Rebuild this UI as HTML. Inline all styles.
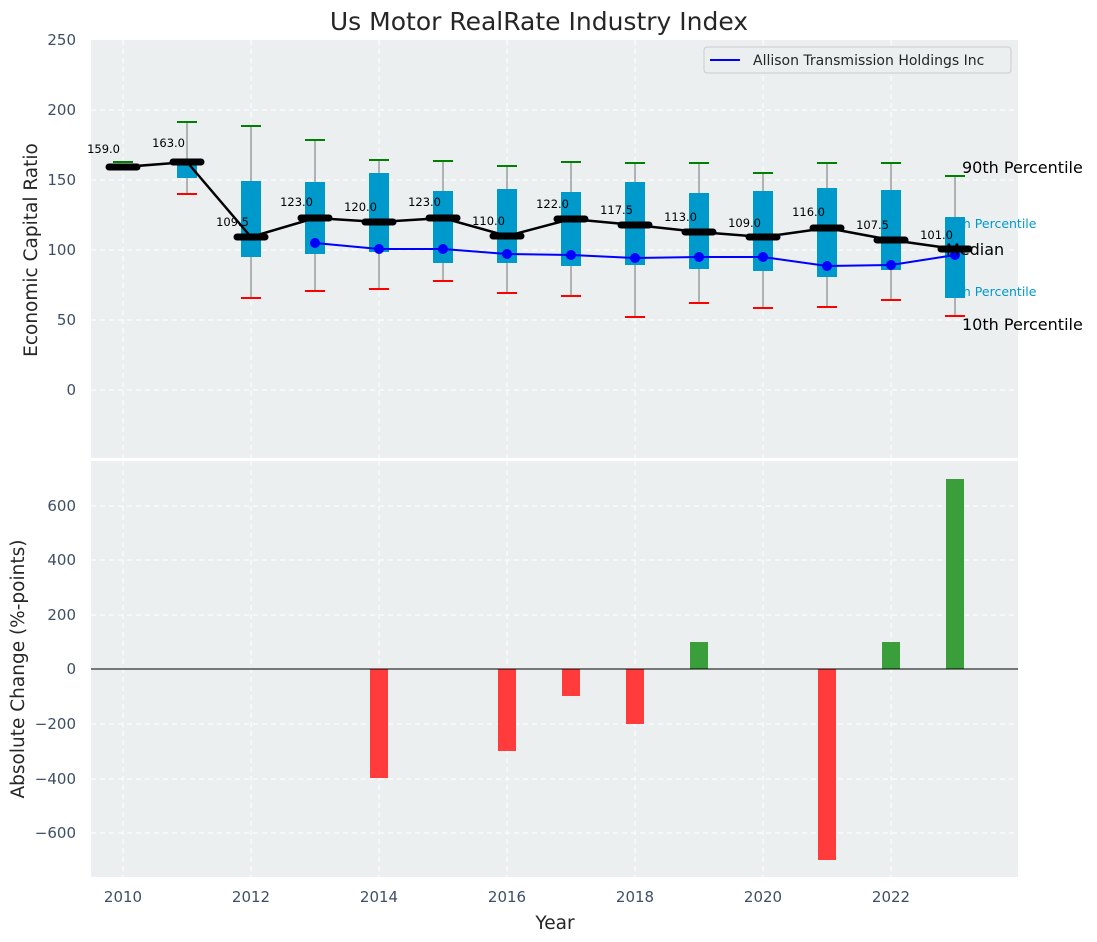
<!DOCTYPE html>
<html><head><meta charset="utf-8"><style>body{margin:0;background:#fff}svg{display:block;font-family:"DejaVu Sans","Liberation Sans",sans-serif}</style></head><body>
<svg width="1097" height="942" viewBox="0 0 1097 942" xmlns="http://www.w3.org/2000/svg">
<text x="539" y="30" font-size="25" text-anchor="middle" fill="#262626">Us Motor RealRate Industry Index</text>
<rect x="91" y="40" width="927" height="418" fill="#ebeff0"/>
<g stroke="#fff" stroke-dasharray="5,4" stroke-width="1">
<line x1="123" y1="40" x2="123" y2="458"/><line x1="251" y1="40" x2="251" y2="458"/><line x1="379" y1="40" x2="379" y2="458"/><line x1="507" y1="40" x2="507" y2="458"/><line x1="635" y1="40" x2="635" y2="458"/><line x1="763" y1="40" x2="763" y2="458"/><line x1="891" y1="40" x2="891" y2="458"/>
<line x1="91" y1="110" x2="1018" y2="110"/><line x1="91" y1="180" x2="1018" y2="180"/><line x1="91" y1="250" x2="1018" y2="250"/><line x1="91" y1="320" x2="1018" y2="320"/><line x1="91" y1="390" x2="1018" y2="390"/>
</g>
<g font-size="15" fill="#3d4f66" text-anchor="end">
<text x="76" y="45">250</text><text x="76" y="115">200</text><text x="76" y="185">150</text><text x="76" y="255">100</text><text x="76" y="325">50</text><text x="76" y="395">0</text>
</g>
<text transform="translate(37,250) rotate(-90)" font-size="18.5" text-anchor="middle" fill="#262626">Economic Capital Ratio</text>
<g stroke="#888" stroke-width="1.2">
<line x1="187" y1="122" x2="187" y2="194"/><line x1="251" y1="126" x2="251" y2="298"/><line x1="315" y1="140" x2="315" y2="291"/><line x1="379" y1="160" x2="379" y2="289"/><line x1="443" y1="161" x2="443" y2="281"/><line x1="507" y1="166" x2="507" y2="293"/><line x1="571" y1="162" x2="571" y2="296"/><line x1="635" y1="163" x2="635" y2="317"/><line x1="699" y1="163" x2="699" y2="303"/><line x1="763" y1="173" x2="763" y2="308"/><line x1="827" y1="163" x2="827" y2="307"/><line x1="891" y1="163" x2="891" y2="300"/><line x1="955" y1="176" x2="955" y2="316"/>
</g>
<g fill="#0099cc">
<rect x="177" y="162" width="20" height="16"/><rect x="241" y="181" width="20" height="76"/><rect x="305" y="182" width="20" height="72"/><rect x="369" y="173" width="20" height="79"/><rect x="433" y="191" width="20" height="72"/><rect x="497" y="189" width="20" height="74"/><rect x="561" y="192" width="20" height="74"/><rect x="625" y="182" width="20" height="83"/><rect x="689" y="193" width="20" height="76"/><rect x="753" y="191" width="20" height="80"/><rect x="817" y="188" width="20" height="89"/><rect x="881" y="190" width="20" height="80"/><rect x="945" y="217" width="20" height="81"/>
</g>
<g stroke="#008000" stroke-width="2">
<line x1="113" y1="162" x2="133" y2="162"/><line x1="177" y1="122" x2="197" y2="122"/><line x1="241" y1="126" x2="261" y2="126"/><line x1="305" y1="140" x2="325" y2="140"/><line x1="369" y1="160" x2="389" y2="160"/><line x1="433" y1="161" x2="453" y2="161"/><line x1="497" y1="166" x2="517" y2="166"/><line x1="561" y1="162" x2="581" y2="162"/><line x1="625" y1="163" x2="645" y2="163"/><line x1="689" y1="163" x2="709" y2="163"/><line x1="753" y1="173" x2="773" y2="173"/><line x1="817" y1="163" x2="837" y2="163"/><line x1="881" y1="163" x2="901" y2="163"/><line x1="945" y1="176" x2="965" y2="176"/>
</g>
<g stroke="#f00" stroke-width="2">
<line x1="177" y1="194" x2="197" y2="194"/><line x1="241" y1="298" x2="261" y2="298"/><line x1="305" y1="291" x2="325" y2="291"/><line x1="369" y1="289" x2="389" y2="289"/><line x1="433" y1="281" x2="453" y2="281"/><line x1="497" y1="293" x2="517" y2="293"/><line x1="561" y1="296" x2="581" y2="296"/><line x1="625" y1="317" x2="645" y2="317"/><line x1="689" y1="303" x2="709" y2="303"/><line x1="753" y1="308" x2="773" y2="308"/><line x1="817" y1="307" x2="837" y2="307"/><line x1="881" y1="300" x2="901" y2="300"/><line x1="945" y1="316" x2="965" y2="316"/>
</g>
<polyline fill="none" stroke="#00f" stroke-width="2" points="315,243 379,249 443,249 507,254 571,255 635,258 699,257 763,257 827,266 891,265 955,255"/>
<g fill="#00f"><circle cx="315" cy="243" r="5"/><circle cx="379" cy="249" r="5"/><circle cx="443" cy="249" r="5"/><circle cx="507" cy="254" r="5"/><circle cx="571" cy="255" r="5"/><circle cx="635" cy="258" r="5"/><circle cx="699" cy="257" r="5"/><circle cx="763" cy="257" r="5"/><circle cx="827" cy="266" r="5"/><circle cx="891" cy="265" r="5"/><circle cx="955" cy="255" r="5"/></g>
<polyline fill="none" stroke="#000" stroke-width="2.5" points="123,167 187,162 251,237 315,218 379,222 443,218 507,236 571,219 635,225 699,232 763,237 827,228 891,240 955,249"/>
<g stroke="#000" stroke-width="7" stroke-linecap="round">
<line x1="109" y1="167" x2="137" y2="167"/><line x1="173" y1="162" x2="201" y2="162"/><line x1="237" y1="237" x2="265" y2="237"/><line x1="301" y1="218" x2="329" y2="218"/><line x1="365" y1="222" x2="393" y2="222"/><line x1="429" y1="218" x2="457" y2="218"/><line x1="493" y1="236" x2="521" y2="236"/><line x1="557" y1="219" x2="585" y2="219"/><line x1="621" y1="225" x2="649" y2="225"/><line x1="685" y1="232" x2="713" y2="232"/><line x1="749" y1="237" x2="777" y2="237"/><line x1="813" y1="228" x2="841" y2="228"/><line x1="877" y1="240" x2="905" y2="240"/><line x1="941" y1="249" x2="969" y2="249"/>
</g>
<g font-size="11.5" fill="#000" text-anchor="end">
<text x="120" y="153">159.0</text><text x="185" y="147">163.0</text><text x="249" y="226">109.5</text><text x="313" y="206">123.0</text><text x="377" y="211">120.0</text><text x="441" y="206">123.0</text><text x="505" y="225">110.0</text><text x="569" y="208">122.0</text><text x="633" y="214">117.5</text><text x="697" y="221">113.0</text><text x="761" y="227">109.0</text><text x="825" y="216">116.0</text><text x="889" y="229">107.5</text><text x="953" y="239">101.0</text>
</g>
<g font-size="16" fill="#000">
<text x="962" y="173">90th Percentile</text><text x="946" y="255">Median</text><text x="962" y="330">10th Percentile</text>
</g>
<g font-size="12.5" fill="#0099cc"><text x="958" y="228">th Percentile</text><text x="958" y="296">th Percentile</text></g>
<rect x="704" y="47" width="307" height="26" rx="3" fill="#ebeff0" stroke="#ccc"/>
<line x1="710" y1="60" x2="740" y2="60" stroke="#00f" stroke-width="2"/>
<text x="753" y="65" font-size="14" fill="#262626">Allison Transmission Holdings Inc</text>
<rect x="91" y="461" width="927" height="416" fill="#ebeff0"/>
<g stroke="#fff" stroke-dasharray="5,4" stroke-width="1">
<line x1="123" y1="461" x2="123" y2="877"/><line x1="251" y1="461" x2="251" y2="877"/><line x1="379" y1="461" x2="379" y2="877"/><line x1="507" y1="461" x2="507" y2="877"/><line x1="635" y1="461" x2="635" y2="877"/><line x1="763" y1="461" x2="763" y2="877"/><line x1="891" y1="461" x2="891" y2="877"/>
<line x1="91" y1="506" x2="1018" y2="506"/><line x1="91" y1="560" x2="1018" y2="560"/><line x1="91" y1="615" x2="1018" y2="615"/><line x1="91" y1="724" x2="1018" y2="724"/><line x1="91" y1="779" x2="1018" y2="779"/><line x1="91" y1="833" x2="1018" y2="833"/>
</g>
<g font-size="15" fill="#3d4f66" text-anchor="end">
<text x="76" y="511">600</text><text x="76" y="565">400</text><text x="76" y="620">200</text><text x="76" y="674">0</text><text x="76" y="729">−200</text><text x="76" y="784">−400</text><text x="76" y="838">−600</text>
</g>
<text transform="translate(24,669) rotate(-90)" font-size="18.5" text-anchor="middle" fill="#262626">Absolute Change (%-points)</text>
<g fill="#ff3b3b">
<rect x="370" y="669" width="18" height="109"/><rect x="498" y="669" width="18" height="82"/><rect x="562" y="669" width="18" height="27"/><rect x="626" y="669" width="18" height="55"/><rect x="818" y="669" width="18" height="191"/>
</g>
<g fill="#3a9e3a">
<rect x="690" y="642" width="18" height="27"/><rect x="882" y="642" width="18" height="27"/><rect x="946" y="479" width="18" height="190"/>
</g>
<line x1="91" y1="669" x2="1018" y2="669" stroke="#000" stroke-width="1"/>
<g font-size="15" fill="#3d4f66" text-anchor="middle">
<text x="123" y="902">2010</text><text x="251" y="902">2012</text><text x="379" y="902">2014</text><text x="507" y="902">2016</text><text x="635" y="902">2018</text><text x="763" y="902">2020</text><text x="891" y="902">2022</text>
</g>
<text x="555" y="929" font-size="18.5" text-anchor="middle" fill="#262626">Year</text>
</svg>
</body></html>
